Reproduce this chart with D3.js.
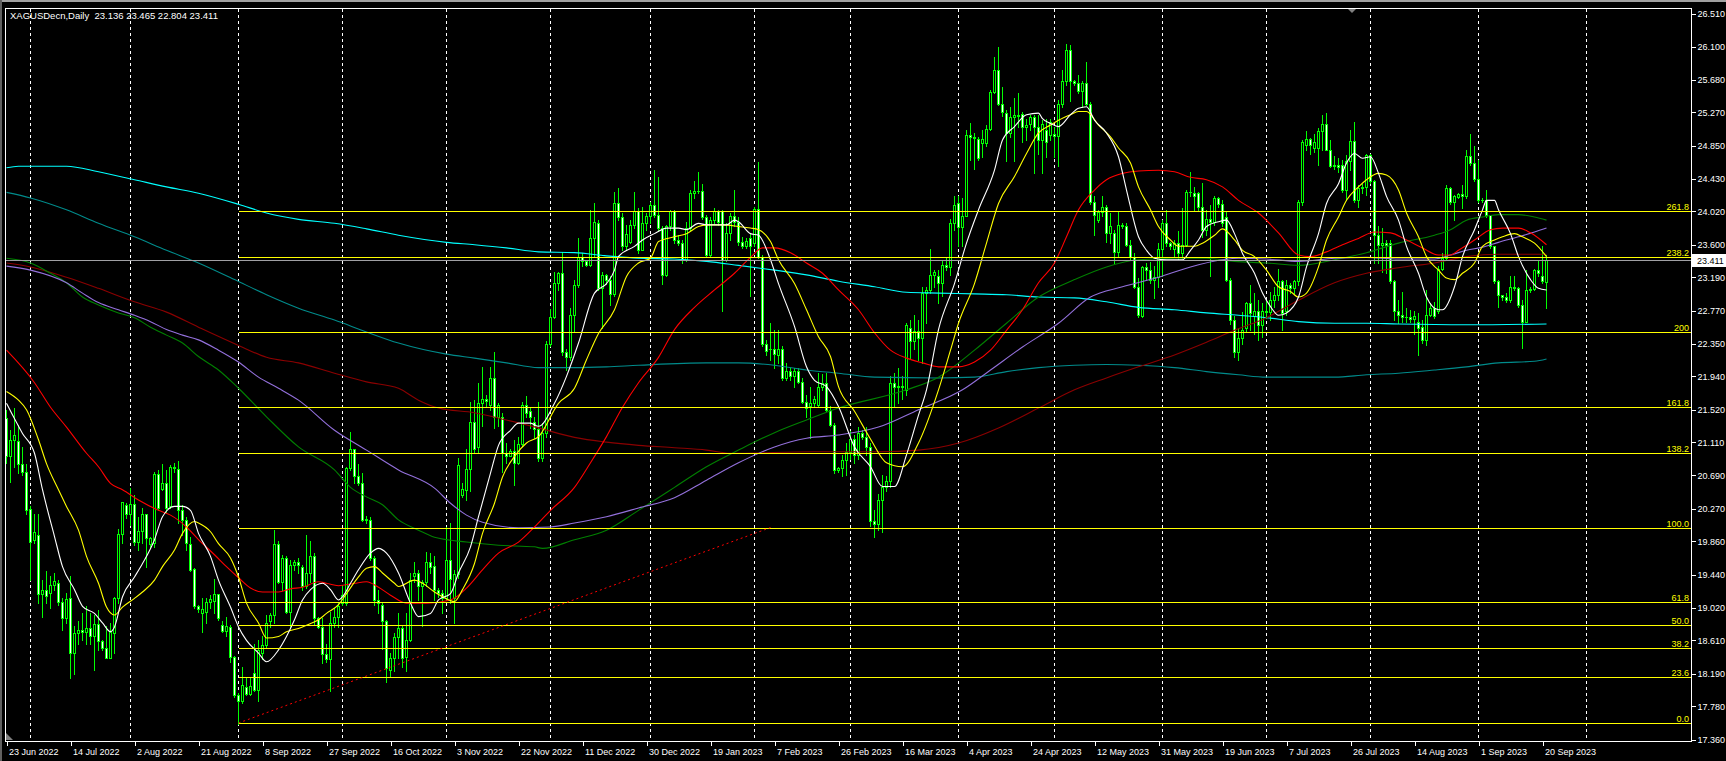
<!DOCTYPE html>
<html><head><meta charset="utf-8">
<script src="https://cdn.jsdelivr.net/npm/d3@7"></script>
<style>html,body{margin:0;padding:0;background:#000;overflow:hidden}</style>
</head><body><svg id="c" width="1726" height="761"></svg>
<script>
// ---- DATA ----
const symbolTitle = "XAGUSDecn,Daily  23.136 23.465 22.804 23.411";
// daily candles [open, high, low, close], bar 0 = 23 Jun 2022
const candles = [
[21.41,21.52,20.85,20.93],[20.93,21.26,20.61,21.14],[21.14,21.54,20.80,21.20],[21.12,21.33,20.72,20.84],[20.84,21.05,20.70,20.74],
[20.73,20.84,20.21,20.26],[20.27,20.30,19.37,19.85],[19.87,20.21,19.84,19.98],[19.94,20.21,19.08,19.20],[19.20,19.37,18.91,19.24],
[19.24,19.48,19.08,19.17],[19.21,19.42,19.02,19.31],[19.31,19.46,19.25,19.36],[19.34,19.37,19.06,19.09],[19.09,19.14,18.74,18.89],
[18.89,19.21,18.83,19.13],[19.14,19.42,18.13,18.45],[18.45,18.79,18.18,18.70],[18.70,18.85,18.57,18.74],[18.74,18.95,18.61,18.72],
[18.72,19.04,18.57,18.76],[18.76,18.95,18.57,18.67],[18.67,18.93,18.24,18.82],[18.82,18.99,18.49,18.60],[18.60,18.61,18.49,18.52],
[18.52,18.79,18.39,18.39],[18.39,18.83,18.39,18.71],[18.70,19.16,18.45,19.14],[19.14,20.02,19.08,19.95],[19.95,20.36,19.84,20.35],
[20.32,20.34,20.15,20.21],[20.21,20.53,20.06,20.33],[20.33,20.44,19.81,19.85],[19.85,20.17,19.75,19.99],[19.99,20.28,19.84,20.20],
[20.20,20.21,19.54,19.90],[19.82,19.92,19.79,19.90],[19.84,20.74,19.79,20.71],[20.71,20.76,20.26,20.28],[20.52,20.84,20.51,20.59],
[20.60,20.76,20.23,20.28],[20.30,20.82,20.28,20.80],[20.80,20.85,20.74,20.78],[20.77,20.87,20.09,20.25],[20.25,20.32,19.94,20.13],
[20.13,20.17,19.75,19.84],[19.82,19.92,19.48,19.50],[19.51,19.52,19.02,19.04],[19.04,19.06,18.97,19.00],[18.96,19.14,18.72,19.00],
[18.97,19.14,18.83,19.10],[19.10,19.18,19.02,19.13],[19.11,19.39,18.95,19.19],[19.20,19.20,18.87,18.89],[18.80,18.85,18.71,18.73],
[18.73,18.91,18.66,18.79],[18.78,18.80,18.34,18.40],[18.40,18.41,17.90,17.92],[17.92,17.95,17.56,17.84],[17.84,18.28,17.82,18.05],
[18.02,18.15,17.92,17.94],[17.94,18.13,17.92,18.03],[18.20,18.57,17.97,17.98],[17.98,18.61,17.84,18.49],[18.45,18.66,18.38,18.55],
[18.55,18.93,18.53,18.83],[18.85,18.95,18.78,18.93],[18.93,20.00,18.83,19.83],[19.83,19.86,19.33,19.35],[19.35,19.69,19.25,19.65],
[19.65,19.67,18.95,18.97],[18.97,19.62,18.78,19.56],[19.56,19.62,19.50,19.60],[19.60,19.65,19.46,19.56],[19.54,19.56,19.25,19.29],
[19.29,19.94,19.27,19.46],[19.46,19.86,19.35,19.68],[19.68,19.71,18.80,18.89],[18.89,18.91,18.76,18.78],[18.78,18.89,18.32,18.44],
[18.44,18.57,18.34,18.38],[18.38,18.97,17.97,18.83],[18.83,19.02,18.78,18.91],[18.91,19.10,18.78,19.04],[19.08,19.31,19.06,19.18],
[19.08,20.80,19.06,20.78],[20.78,21.24,20.76,21.02],[21.02,21.03,20.59,20.68],[20.68,20.84,20.57,20.59],[20.59,20.72,20.11,20.13],
[20.13,20.18,20.09,20.14],[20.13,20.17,19.62,19.65],[19.65,19.67,19.06,19.12],[19.12,19.25,18.95,19.08],[19.06,19.10,18.50,18.85],
[18.85,18.87,18.08,18.26],[18.24,18.45,18.16,18.39],[18.39,18.70,18.22,18.65],[18.65,18.95,18.39,18.76],[18.76,18.79,18.28,18.39],
[18.40,18.95,18.23,18.62],[18.62,19.46,18.60,19.37],[19.42,19.60,19.35,19.46],[19.46,19.50,19.12,19.29],[19.30,19.37,18.79,19.35],
[19.35,19.73,19.29,19.60],[19.60,19.71,19.46,19.54],[19.55,19.67,19.12,19.25],[19.25,19.27,19.16,19.21],[19.21,19.25,18.95,19.15],
[19.15,20.04,19.12,19.63],[19.63,20.09,19.08,19.39],[19.15,19.50,18.83,19.45],[19.45,20.91,19.40,20.82],[20.44,20.59,20.42,20.52],
[20.51,21.02,20.38,20.77],[20.77,21.62,20.49,21.37],[21.37,21.64,20.97,21.03],[21.05,21.85,20.98,21.60],[21.60,22.06,21.31,21.66],
[21.66,21.70,21.56,21.63],[21.58,22.06,21.52,21.92],[21.92,22.25,21.29,21.43],[21.43,21.60,21.31,21.58],[21.43,21.48,20.74,20.97],
[20.97,21.10,20.85,20.94],[20.94,21.03,20.93,21.00],[21.00,21.14,20.57,20.85],[20.85,21.18,20.83,21.09],[21.09,21.62,21.06,21.58],
[21.58,21.69,21.43,21.48],[21.50,21.54,21.29,21.43],[21.36,21.43,21.16,21.27],[21.27,21.62,20.87,20.91],[20.91,21.35,20.87,21.22],
[21.22,22.38,21.18,22.35],[22.35,22.79,22.32,22.69],[22.69,23.26,22.67,23.12],[23.12,23.26,23.03,23.24],[23.24,23.51,22.21,22.25],
[22.25,22.28,22.02,22.19],[22.19,22.80,22.15,22.72],[22.71,23.16,22.51,23.09],[23.09,23.69,23.07,23.45],[23.45,23.49,23.33,23.39],
[23.39,23.41,23.33,23.35],[23.35,24.04,23.33,23.68],[23.68,24.13,23.45,23.89],[23.88,23.91,23.03,23.05],[23.05,23.26,22.55,23.22],
[23.22,23.23,23.11,23.15],[23.15,23.20,22.84,22.98],[22.98,24.26,22.95,24.13],[24.13,24.31,23.91,23.95],[23.95,24.00,23.53,23.58],
[23.58,23.85,23.53,23.74],[23.64,23.91,23.62,23.85],[23.85,24.27,23.81,24.02],[24.02,24.06,23.49,23.53],[23.53,24.08,23.53,23.88],
[23.87,24.00,23.79,23.96],[23.96,24.14,23.87,24.10],[24.10,24.54,23.95,23.98],[23.98,24.46,23.77,23.81],[23.81,23.83,23.11,23.22],
[23.22,23.85,23.20,23.83],[23.83,24.04,23.79,24.02],[24.02,24.04,23.62,23.66],[23.66,23.72,23.60,23.62],[23.62,23.66,23.37,23.41],
[23.41,23.89,23.39,23.81],[23.81,24.29,23.79,24.25],[24.25,24.40,24.19,24.28],[24.28,24.52,24.25,24.28],[24.28,24.37,23.93,23.95],
[23.95,23.98,23.45,23.47],[23.47,23.95,23.45,23.91],[23.91,24.06,23.87,24.02],[24.02,24.04,23.85,23.89],[24.02,24.04,22.76,23.41],
[23.41,23.87,23.39,23.75],[23.75,24.00,23.66,23.96],[23.96,24.29,23.83,23.89],[23.89,23.95,23.60,23.64],[23.64,23.70,23.56,23.58],
[23.58,23.68,23.56,23.65],[23.68,23.74,22.95,23.58],[23.62,24.08,23.58,24.05],[24.05,24.64,23.43,23.45],[23.45,23.47,22.32,22.35],
[22.35,22.40,22.21,22.26],[22.28,22.61,22.15,22.28],[22.28,22.53,22.04,22.22],[22.21,22.53,22.11,22.28],[22.28,22.32,21.90,21.92],
[21.92,22.11,21.90,22.01],[22.01,22.04,21.90,21.94],[21.94,22.04,21.81,22.01],[22.01,22.04,21.86,21.87],[21.87,21.92,21.60,21.62],
[21.62,21.71,21.43,21.54],[21.56,21.81,21.16,21.61],[21.61,21.69,21.56,21.66],[21.58,21.98,21.56,21.81],[21.81,21.97,21.77,21.85],
[21.85,21.98,21.50,21.52],[21.52,21.56,21.31,21.33],[21.33,21.35,20.72,20.76],[20.76,20.80,20.74,20.78],[20.78,20.95,20.68,20.88],
[20.88,21.10,20.70,20.98],[20.98,21.25,20.90,21.15],[21.15,21.20,20.85,20.95],[20.95,21.30,20.90,21.22],[21.22,21.26,21.15,21.18],
[21.18,21.30,20.95,21.05],[21.05,21.10,20.05,20.12],[20.12,20.25,19.92,20.08],[20.08,20.45,20.00,20.38],[20.38,20.70,19.98,20.55],
[20.55,20.68,20.50,20.62],[20.62,21.95,20.55,21.85],[21.85,21.98,21.55,21.80],[21.80,22.05,21.60,21.82],[21.82,21.95,21.65,21.80],
[21.77,22.61,21.70,22.59],[22.55,22.65,22.17,22.38],[22.38,22.72,22.28,22.51],[22.51,22.65,22.15,22.42],[22.42,23.07,22.11,22.99],
[22.99,23.07,22.61,23.03],[23.03,23.54,22.99,23.22],[23.22,23.28,23.07,23.25],[23.20,23.28,22.86,23.12],[23.12,23.39,22.95,23.35],
[23.35,23.45,23.28,23.32],[23.32,23.93,23.22,23.87],[23.87,24.21,23.79,24.10],[24.13,24.21,23.58,23.82],[23.82,24.19,23.58,23.96],
[23.96,25.05,23.96,24.98],[24.98,25.13,24.67,24.96],[24.96,25.01,24.56,24.94],[24.93,24.96,24.67,24.69],[24.88,25.05,24.71,24.93],
[24.88,25.11,24.84,25.06],[25.06,25.55,25.05,25.53],[25.53,25.97,25.51,25.80],[25.80,26.10,25.36,25.38],[25.38,25.59,25.22,25.28],
[25.26,25.30,24.65,25.01],[25.01,25.34,24.96,25.21],[25.21,25.45,24.65,25.24],[25.24,25.51,25.09,25.22],[25.25,25.28,24.90,25.09],
[25.09,25.19,24.92,25.11],[25.12,25.24,25.05,25.21],[25.21,25.24,24.50,25.08],[25.08,25.24,24.75,24.92],[24.92,25.17,24.50,25.12],
[25.05,25.19,24.71,24.90],[24.98,25.19,24.92,25.15],[25.00,25.09,24.71,24.97],[24.97,25.43,24.59,25.38],[25.38,25.80,25.34,25.66],
[25.66,26.13,25.61,26.06],[26.06,26.12,25.41,25.66],[25.66,25.68,25.61,25.64],[25.64,25.74,25.51,25.54],[25.54,25.66,25.34,25.64],
[25.64,25.91,25.36,25.38],[25.38,25.40,24.12,24.14],[24.14,24.21,23.72,23.98],[23.91,24.04,23.89,24.01],[24.01,24.21,23.96,24.07],
[24.07,24.10,23.64,23.75],[23.75,24.00,23.62,23.83],[23.75,23.79,23.37,23.51],[23.51,24.02,23.45,23.85],[23.85,23.88,23.81,23.84],
[23.84,23.87,23.58,23.60],[23.60,23.66,23.41,23.45],[23.45,23.49,23.05,23.07],[23.07,23.18,22.69,22.72],[22.70,23.33,22.69,23.32],
[23.32,23.37,23.16,23.28],[23.28,23.38,23.12,23.16],[23.16,23.33,22.93,23.19],[23.19,23.62,23.07,23.54],[23.54,23.91,23.20,23.87],
[23.87,24.04,23.58,23.62],[23.62,23.64,23.54,23.59],[23.55,23.66,23.45,23.62],[23.62,23.77,23.41,23.49],[23.49,24.06,23.43,23.60],
[23.60,24.29,23.58,24.27],[24.27,24.52,24.21,24.26],[24.25,24.33,24.04,24.21],[24.25,24.27,24.04,24.08],[24.08,24.38,23.70,23.79],
[23.79,24.04,23.72,23.92],[23.92,24.10,23.20,23.89],[23.89,24.21,23.85,24.19],[24.19,24.20,24.08,24.12],[24.12,24.17,23.83,23.87],
[23.95,24.02,23.14,23.16],[23.16,23.18,22.60,22.65],[22.65,22.70,22.19,22.25],[22.25,22.55,22.15,22.42],[22.42,22.75,22.35,22.53],
[22.55,22.88,22.51,22.86],[22.86,23.09,22.53,22.74],[22.70,22.99,22.48,22.76],[22.76,22.90,22.40,22.59],[22.59,22.86,22.44,22.76],
[22.76,22.90,22.67,22.75],[22.75,23.01,22.65,22.90],[22.90,23.07,22.82,22.96],[22.96,23.30,22.90,23.14],[23.14,23.16,22.53,22.74],
[22.76,23.16,22.72,23.09],[23.09,23.12,22.99,23.05],[23.05,23.16,22.99,23.14],[23.14,24.16,23.09,24.14],[24.14,24.92,24.10,24.89],
[24.86,25.03,24.80,24.93],[24.93,24.95,24.75,24.86],[24.82,25.00,24.77,24.89],[24.82,25.07,24.61,25.04],[25.04,25.24,24.80,25.12],
[25.12,25.26,24.80,24.80],[24.80,24.92,24.58,24.59],[24.59,24.72,24.56,24.61],[24.61,24.70,24.52,24.58],[24.61,24.67,24.27,24.29],
[24.29,24.73,24.16,24.65],[24.65,25.05,24.54,24.91],[24.91,25.15,24.14,24.16],[24.16,24.35,24.08,24.32],[24.32,24.37,24.25,24.33],
[24.33,24.75,24.23,24.73],[24.73,24.75,24.38,24.40],[24.40,24.42,23.37,23.72],[23.72,23.83,23.37,23.60],[23.60,23.81,23.26,23.62],
[23.62,23.66,23.24,23.60],[23.62,23.66,23.12,23.14],[23.14,23.16,22.65,22.76],[22.76,22.90,22.61,22.72],[22.72,23.01,22.63,22.69],
[22.69,22.80,22.63,22.69],[22.69,22.78,22.63,22.66],[22.66,22.76,22.48,22.70],[22.62,22.74,22.21,22.55],[22.56,22.65,22.36,22.40],
[22.40,23.03,22.34,22.72],[22.72,22.86,22.70,22.80],[22.80,22.88,22.67,22.70],[22.76,23.33,22.74,23.30],[23.30,23.49,23.28,23.43],
[23.43,24.35,23.41,24.31],[24.31,24.33,24.12,24.14],[24.14,24.23,23.91,24.22],[24.20,24.25,24.19,24.24],[24.24,24.35,24.06,24.22],
[24.22,24.80,24.19,24.72],[24.72,25.00,24.61,24.63],[24.63,24.84,24.40,24.43],[24.43,24.67,24.14,24.16],[24.16,24.19,24.14,24.16],
[24.16,24.29,23.95,23.97],[23.97,23.97,23.56,23.58],[23.58,23.59,23.12,23.14],[23.14,23.16,22.82,22.97],[22.97,22.97,22.90,22.94],
[22.94,22.99,22.88,22.90],[22.90,23.20,22.88,23.07],[23.07,23.20,23.03,23.05],[23.05,23.07,22.82,22.84],[22.84,22.90,22.30,22.63],
[22.63,23.28,22.62,23.03],[23.03,23.07,23.01,23.04],[23.04,23.30,23.03,23.28],[23.28,23.41,23.20,23.24],[23.21,23.58,23.12,23.14],
[23.136,23.465,22.804,23.411]
];
// time axis labels (one every 16 bars)
const timeLabels = ["23 Jun 2022","14 Jul 2022","2 Aug 2022","21 Aug 2022","8 Sep 2022","27 Sep 2022","16 Oct 2022","3 Nov 2022","22 Nov 2022","11 Dec 2022","30 Dec 2022","19 Jan 2023","7 Feb 2023","26 Feb 2023","16 Mar 2023","4 Apr 2023","24 Apr 2023","12 May 2023","31 May 2023","19 Jun 2023","7 Jul 2023","26 Jul 2023","14 Aug 2023","1 Sep 2023","20 Sep 2023"];
const timeLabelBars = [0,16,32,48,64,80,96,112,128,144,160,176,192,208,224,240,256,272,288,304,320,336,352,368,384];
// first bar of each month (vertical grid)
const monthStartBars = [6,31,58,84,110,136,161,187,211,238,262,289,315,341,368,395];
// price axis tick labels
const priceTicks = [17.360,17.780,18.190,18.610,19.020,19.440,19.860,20.270,20.690,21.110,21.520,21.940,22.350,22.770,23.190,23.600,24.020,24.430,24.850,25.270,25.680,26.100,26.510];
const bidPrice = 23.411;
// Fibonacci tool
const fibLevels = [0,23.6,38.2,50,61.8,100,138.2,161.8,200,238.2,261.8];
const fibLevelLabels = ["0.0","23.6","38.2","50.0","61.8","100.0","138.2","161.8","200","238.2","261.8"];
const fibLow = 17.568, fibHigh = 20.033, fibStartBar = 58, fibEndBar = 191;
// moving averages: [bar, value]
const maWhite = [[0,21.60],[4,21.22],[7,20.97],[9,20.51],[12,19.92],[14,19.54],[17,19.25],[19,19.04],[22,18.95],[24,18.83],[26,18.72],[27,18.78],[29,19.16],[32,19.41],[34,19.58],[37,19.88],[39,20.17],[42,20.30],[44,20.30],[46,20.25],[48,19.96],[51,19.67],[53,19.37],[56,19.03],[58,18.78],[60,18.61],[63,18.45],[65,18.34],[68,18.49],[70,18.66],[72,18.87],[74,19.12],[76,19.25],[79,19.33],[81,19.25],[83,19.12],[84,19.16],[86,19.33],[88,19.50],[91,19.71],[93,19.77],[95,19.71],[98,19.46],[101,19.08],[103,18.91],[106,18.95],[108,19.12],[111,19.20],[113,19.46],[116,19.79],[118,20.17],[121,20.72],[123,21.07],[126,21.26],[128,21.35],[131,21.35],[133,21.31],[137,21.60],[140,21.94],[143,22.36],[147,22.99],[150,23.11],[152,23.28],[153,23.45],[157,23.58],[159,23.66],[162,23.74],[165,23.81],[168,23.81],[170,23.79],[173,23.87],[175,23.85],[178,23.85],[180,23.85],[182,23.91],[183,23.89],[186,23.74],[188,23.72],[191,23.41],[193,23.11],[197,22.57],[200,22.06],[202,21.89],[205,21.81],[208,21.56],[212,21.05],[216,20.80],[219,20.55],[222,20.55],[225,20.95],[228,21.45],[230,21.77],[233,22.53],[237,23.11],[240,23.62],[243,24.04],[247,24.54],[249,24.92],[252,25.09],[255,25.24],[258,25.26],[259,25.19],[261,25.13],[263,25.09],[266,25.24],[268,25.32],[270,25.34],[272,25.17],[275,25.01],[278,24.71],[280,24.29],[283,23.70],[285,23.53],[287,23.43],[290,23.41],[294,23.41],[296,23.53],[298,23.66],[300,23.83],[303,23.89],[305,23.91],[307,23.74],[309,23.49],[312,23.24],[314,22.99],[316,22.82],[318,22.71],[320,22.74],[323,22.94],[325,23.32],[328,23.74],[330,24.12],[333,24.37],[335,24.63],[337,24.75],[339,24.69],[341,24.71],[343,24.50],[345,24.21],[348,23.91],[350,23.58],[353,23.24],[355,22.94],[358,22.78],[359,22.78],[362,23.07],[364,23.45],[367,23.79],[369,24.04],[370,24.16],[372,24.16],[373,24.04],[376,23.74],[378,23.45],[381,23.16],[383,23.05],[385,23.03]];
const maYellow = [[0,21.75],[3,21.64],[5,21.52],[8,21.14],[10,20.84],[13,20.51],[15,20.30],[18,20.00],[20,19.67],[23,19.33],[25,19.03],[27,18.93],[29,19.03],[32,19.14],[34,19.22],[37,19.37],[39,19.54],[42,19.75],[44,19.96],[47,20.11],[48,20.09],[51,19.98],[53,19.83],[56,19.65],[58,19.41],[60,19.08],[63,18.83],[65,18.64],[68,18.66],[70,18.72],[73,18.76],[75,18.80],[78,18.87],[80,18.95],[83,19.06],[85,19.20],[88,19.41],[90,19.52],[92,19.54],[94,19.46],[97,19.33],[98,19.29],[102,19.37],[104,19.33],[107,19.22],[109,19.16],[112,19.10],[114,19.25],[117,19.58],[119,19.96],[122,20.34],[124,20.67],[127,20.93],[130,21.10],[133,21.18],[138,21.60],[142,21.79],[145,22.15],[148,22.48],[152,22.78],[155,23.20],[158,23.37],[161,23.43],[163,23.64],[167,23.70],[170,23.74],[173,23.83],[175,23.85],[179,23.85],[183,23.83],[186,23.81],[188,23.79],[191,23.64],[193,23.41],[197,23.11],[200,22.78],[203,22.44],[206,22.19],[208,21.81],[212,21.50],[216,21.15],[220,20.85],[224,20.80],[228,21.10],[233,21.77],[236,22.27],[238,22.61],[242,23.11],[245,23.62],[248,24.12],[252,24.46],[255,24.75],[258,25.01],[261,25.11],[263,25.17],[266,25.24],[268,25.28],[270,25.28],[273,25.11],[276,24.96],[278,24.82],[281,24.63],[283,24.33],[286,24.04],[288,23.83],[291,23.66],[293,23.58],[297,23.58],[299,23.62],[302,23.72],[304,23.80],[307,23.66],[309,23.53],[312,23.45],[315,23.28],[318,23.07],[321,23.01],[323,22.94],[325,22.99],[328,23.32],[330,23.66],[333,23.95],[335,24.16],[338,24.33],[340,24.42],[343,24.50],[345,24.48],[348,24.29],[350,24.00],[353,23.70],[355,23.45],[358,23.28],[360,23.18],[362,23.16],[364,23.24],[367,23.37],[369,23.58],[372,23.66],[374,23.70],[377,23.74],[379,23.70],[382,23.62],[385,23.45]];
const maRed = [[0,22.27],[7,21.86],[11,21.55],[15,21.30],[20,20.97],[23,20.80],[26,20.59],[29,20.51],[33,20.38],[38,20.25],[41,20.19],[45,20.04],[48,19.88],[52,19.69],[55,19.54],[58,19.40],[61,19.27],[64,19.22],[68,19.22],[71,19.26],[74,19.28],[78,19.35],[80,19.33],[83,19.30],[87,19.33],[90,19.35],[93,19.28],[96,19.18],[100,19.08],[105,19.08],[111,19.12],[115,19.27],[119,19.50],[123,19.71],[128,19.85],[132,20.04],[136,20.25],[142,20.54],[146,20.85],[150,21.18],[154,21.55],[158,21.86],[163,22.18],[167,22.53],[172,22.81],[177,23.03],[182,23.24],[186,23.44],[189,23.56],[192,23.56],[196,23.50],[200,23.37],[204,23.24],[208,23.03],[213,22.78],[217,22.49],[221,22.27],[225,22.17],[229,22.11],[233,22.06],[238,22.06],[242,22.12],[246,22.27],[250,22.52],[254,22.78],[258,23.12],[262,23.37],[265,23.70],[268,24.04],[272,24.29],[275,24.42],[279,24.50],[283,24.53],[288,24.54],[292,24.52],[296,24.45],[300,24.42],[304,24.33],[308,24.16],[313,24.00],[318,23.75],[323,23.47],[326,23.45],[330,23.51],[334,23.60],[338,23.68],[342,23.76],[346,23.75],[350,23.66],[354,23.56],[358,23.47],[361,23.47],[363,23.53],[367,23.66],[371,23.79],[374,23.81],[378,23.81],[381,23.75],[385,23.60]];
const maMaroon = [[0,23.37],[6,23.32],[15,23.19],[23,23.05],[32,22.88],[40,22.75],[48,22.56],[58,22.33],[65,22.18],[73,22.11],[82,21.98],[90,21.87],[98,21.79],[103,21.64],[108,21.54],[117,21.48],[125,21.39],[133,21.29],[142,21.17],[150,21.11],[158,21.07],[167,21.04],[175,21.01],[181,20.97],[202,20.99],[218,20.99],[228,21.01],[238,21.10],[248,21.29],[258,21.54],[267,21.77],[275,21.92],[283,22.06],[292,22.21],[300,22.37],[307,22.52],[315,22.68],[323,22.90],[332,23.12],[340,23.24],[348,23.31],[357,23.37],[365,23.45],[373,23.48],[385,23.48]];
const maGreen = [[0,23.43],[6,23.37],[11,23.24],[15,23.12],[19,22.94],[23,22.84],[28,22.74],[32,22.68],[36,22.56],[40,22.46],[44,22.36],[48,22.19],[53,22.02],[58,21.79],[65,21.43],[73,21.05],[82,20.76],[86,20.54],[90,20.42],[94,20.32],[98,20.13],[103,20.00],[107,19.91],[115,19.85],[123,19.81],[132,19.79],[134,19.77],[142,19.88],[150,20.00],[158,20.25],[167,20.54],[175,20.80],[183,21.01],[192,21.23],[200,21.39],[208,21.54],[225,21.77],[233,21.93],[242,22.27],[250,22.61],[258,22.94],[267,23.16],[275,23.32],[283,23.41],[292,23.43],[300,23.43],[307,23.39],[315,23.37],[323,23.34],[332,23.41],[340,23.50],[348,23.62],[357,23.72],[361,23.79],[365,23.91],[369,23.95],[373,23.98],[378,23.98],[382,23.95],[385,23.91]];
const maPurple = [[0,23.33],[6,23.28],[15,23.12],[19,22.99],[23,22.87],[28,22.78],[32,22.71],[36,22.63],[40,22.53],[44,22.46],[48,22.40],[53,22.27],[58,22.12],[63,21.93],[68,21.79],[73,21.64],[82,21.26],[90,21.01],[98,20.76],[107,20.53],[111,20.34],[115,20.19],[119,20.10],[128,20.03],[136,20.04],[142,20.09],[150,20.17],[158,20.28],[167,20.41],[175,20.63],[183,20.85],[192,21.05],[200,21.16],[208,21.20],[218,21.30],[228,21.52],[239,21.77],[246,22.02],[254,22.31],[263,22.61],[271,22.94],[279,23.07],[288,23.19],[296,23.32],[304,23.41],[308,23.43],[315,23.42],[323,23.39],[332,23.43],[340,23.44],[348,23.42],[357,23.42],[361,23.47],[365,23.53],[369,23.57],[373,23.63],[378,23.70],[382,23.76],[385,23.81]];
const maCyan = [[0,24.57],[3,24.59],[15,24.59],[23,24.52],[32,24.42],[40,24.33],[48,24.25],[58,24.11],[65,24.00],[73,23.92],[82,23.87],[90,23.80],[98,23.72],[110,23.63],[117,23.60],[125,23.56],[133,23.51],[142,23.50],[150,23.46],[158,23.43],[167,23.42],[175,23.39],[183,23.34],[192,23.28],[200,23.22],[208,23.14],[217,23.07],[225,23.00],[233,22.99],[242,22.98],[250,22.97],[258,22.94],[267,22.93],[275,22.88],[283,22.81],[292,22.78],[300,22.74],[308,22.71],[315,22.68],[323,22.63],[332,22.61],[340,22.61],[348,22.60],[365,22.59],[385,22.60]];
const maTeal = [[0,24.26],[6,24.19],[15,24.04],[23,23.87],[32,23.70],[40,23.53],[48,23.37],[57,23.16],[65,22.97],[73,22.80],[82,22.65],[90,22.50],[98,22.36],[110,22.22],[117,22.17],[125,22.11],[133,22.05],[142,22.05],[150,22.06],[158,22.08],[175,22.11],[183,22.11],[192,22.08],[200,22.02],[208,21.98],[217,21.93],[233,21.92],[242,21.93],[250,22.00],[258,22.05],[267,22.08],[275,22.09],[283,22.08],[292,22.05],[300,22.00],[308,21.96],[315,21.93],[323,21.93],[332,21.93],[340,21.96],[348,21.98],[357,22.02],[365,22.06],[373,22.11],[382,22.13],[385,22.16]];

// ---- CHART ----
const W = 1726, H = 761;
const P = {l:5, t:8, r:1691, b:741};
const FONT = "'Liberation Sans', Arial, sans-serif";
const svg = d3.select('#c');
const x = d3.scaleLinear().domain([0, candles.length-1]).range([6.5, 6.5 + 4*(candles.length-1)]);
const y = d3.scaleLinear().domain([17.36, 26.51]).range([739.5, 14]);

svg.append('rect').attr('width', W).attr('height', H).attr('fill', '#000');
// window chrome
svg.append('rect').attr('x',0).attr('y',0).attr('width',W).attr('height',2).attr('fill','#a0a0a0');
svg.append('rect').attr('x',0).attr('y',0).attr('width',2).attr('height',H).attr('fill','#606060');

svg.append('defs').append('clipPath').attr('id','pc')
  .append('rect').attr('x',P.l+1).attr('y',P.t+1).attr('width',P.r-P.l-1).attr('height',P.b-P.t-1);
const g = svg.append('g').attr('clip-path','url(#pc)');

// vertical grid (month starts)
g.append('g').selectAll('line').data(monthStartBars).join('line')
  .attr('x1', d => x(d)).attr('x2', d => x(d))
  .attr('y1', P.t+1).attr('y2', P.b)
  .attr('stroke','#fff').attr('stroke-width',1).attr('stroke-dasharray','3,3')
  .attr('shape-rendering','crispEdges');

// candles
const cg = g.append('g').attr('shape-rendering','crispEdges');
candles.forEach((c, i) => {
  const [o,h,l,cl] = c;
  const cx = x(i);
  const hi = Math.max(h,o,cl), lo = Math.min(l,o,cl);
  cg.append('line').attr('x1',cx).attr('x2',cx)
    .attr('y1', Math.round(y(hi))).attr('y2', Math.round(y(lo))+1)
    .attr('stroke','#00ff00').attr('stroke-width',1);
  const yt = Math.round(y(Math.max(o,cl))) + 0.5;
  const yb = Math.round(y(Math.min(o,cl))) + 0.5;
  if (yb - yt < 1) {
    cg.append('line').attr('x1',cx-1.5).attr('x2',cx+1.5).attr('y1',yt).attr('y2',yt)
      .attr('stroke','#00ff00').attr('stroke-width',1);
  } else {
    cg.append('rect').attr('x',cx-1).attr('y',yt).attr('width',2).attr('height',yb-yt)
      .attr('fill', cl >= o ? '#000' : '#fff')
      .attr('stroke','#00ff00').attr('stroke-width',1);
  }
});

// moving averages
const line = d3.line().x(d => x(d[0])).y(d => y(d[1])).curve(d3.curveMonotoneX);
const maList = [
  [maTeal,'#008b8b'],[maCyan,'#00ffff'],[maMaroon,'#8b0000'],[maGreen,'#008000'],
  [maPurple,'#9370db'],[maRed,'#ff0000'],[maYellow,'#ffff00'],[maWhite,'#ffffff']
];
maList.forEach(([pts, col]) => {
  g.append('path').attr('d', line(pts)).attr('fill','none')
    .attr('stroke', col).attr('stroke-width',1.1);
});

// fibonacci levels
const fibRange = fibHigh - fibLow;
const fg = g.append('g').attr('shape-rendering','crispEdges');
fibLevels.forEach((lv, k) => {
  const yy = Math.round(y(fibLow + fibRange*lv/100)) + 0.5;
  fg.append('line').attr('x1', x(fibStartBar)).attr('x2', P.r).attr('y1', yy).attr('y2', yy)
    .attr('stroke','#ffff00').attr('stroke-width',1);
  fg.append('text').attr('x', P.r - 2).attr('y', yy - 2).attr('text-anchor','end')
    .attr('font-family', FONT).attr('font-size', 9).attr('fill','#ffff00').text(fibLevelLabels[k]);
});
g.append('line').attr('x1', x(fibStartBar)).attr('y1', y(fibLow))
  .attr('x2', x(fibEndBar)).attr('y2', y(fibHigh))
  .attr('stroke','#ff0000').attr('stroke-width',1).attr('stroke-dasharray','2,3');

// bid line
const yb = Math.round(y(bidPrice)) + 0.5;
g.append('line').attr('x1',P.l).attr('x2',P.r).attr('y1',yb).attr('y2',yb)
  .attr('stroke','#a0a0a4').attr('stroke-width',1).attr('shape-rendering','crispEdges');

// shift marker
svg.append('path').attr('d','M1348,9 L1356,9 L1352,13 Z').attr('fill','#808080');
svg.append('path').attr('d','M6,733 L6,740 L13,740 Z').attr('fill','#808080');

// plot border
svg.append('rect').attr('x',P.l+0.5).attr('y',P.t+0.5).attr('width',P.r-P.l).attr('height',P.b-P.t)
  .attr('fill','none').attr('stroke','#fff').attr('stroke-width',1).attr('shape-rendering','crispEdges');

// price axis
const ya = d3.axisRight(y).tickValues(priceTicks).tickFormat(d3.format('.3f')).tickSize(4).tickPadding(2);
const yaG = svg.append('g').attr('transform',`translate(${P.r+0.5},0)`).call(ya);
yaG.select('.domain').remove();
yaG.selectAll('line').attr('stroke','#fff').attr('shape-rendering','crispEdges');
yaG.selectAll('text').attr('fill','#fff').attr('font-family',FONT).attr('font-size',9);

// bid label
svg.append('rect').attr('x',P.r+1).attr('y',yb-6.5).attr('width',W-P.r-1).attr('height',13).attr('fill','#fff');
svg.append('text').attr('x',P.r+6).attr('y',yb).attr('dy','0.34em').attr('font-family',FONT).attr('font-size',9)
  .attr('fill','#000').text(bidPrice.toFixed(3));

// time axis
const xa = d3.axisBottom(x).tickValues(timeLabelBars).tickFormat((d,i) => timeLabels[i]).tickSize(4).tickPadding(3);
const xaG = svg.append('g').attr('transform',`translate(0,${P.b+0.5})`).call(xa);
xaG.select('.domain').remove();
xaG.selectAll('line').attr('stroke','#fff').attr('shape-rendering','crispEdges');
xaG.selectAll('text').attr('fill','#fff').attr('font-family',FONT).attr('font-size',9)
  .attr('text-anchor','start').attr('x',2);

// title
svg.append('text').attr('x',10).attr('y',19).attr('font-family',FONT).attr('font-size',9.5)
  .attr('fill','#fff').attr('xml:space','preserve').style('white-space','pre').text(symbolTitle);
</script></body></html>
